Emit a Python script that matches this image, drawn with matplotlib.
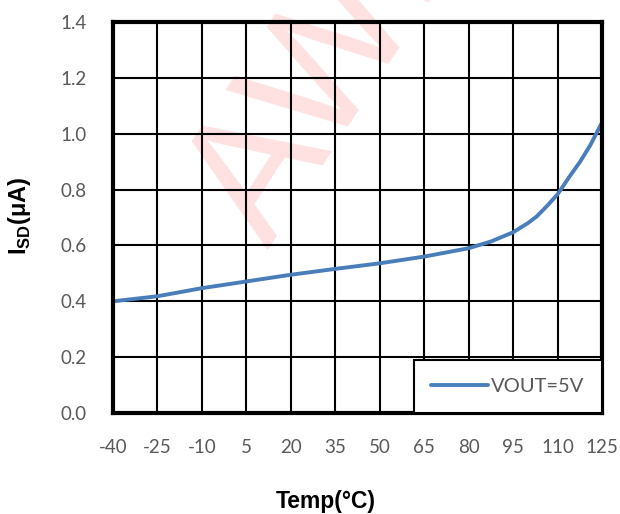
import matplotlib
matplotlib.use("Agg")
import matplotlib.pyplot as plt

plt.rcParams['mathtext.fontset'] = 'custom'
plt.rcParams['mathtext.rm'] = 'Liberation Sans:bold'
plt.rcParams['mathtext.bf'] = 'Liberation Sans:bold'
plt.rcParams['axes.unicode_minus'] = False

# shutdown current vs temperature
temp = [-40, -25, -10, 5, 20, 35, 50, 65, 80, 87.5, 95, 100, 103, 106.5,
        110, 114, 117.5, 121, 125]
isd = [0.40, 0.418, 0.447, 0.471, 0.495, 0.516, 0.536, 0.56, 0.59, 0.614,
       0.647, 0.68, 0.704, 0.742, 0.783, 0.846, 0.898, 0.958, 1.04]
xticks = list(range(-40, 126, 15))
yticks = [0.0, 0.2, 0.4, 0.6, 0.8, 1.0, 1.2, 1.4]

TICK_GRAY = '#595959'

fig = plt.figure(figsize=(6.2, 5.14), dpi=100)
ax = fig.add_axes([113/620, 1-413/514, 489/620, 391/514])
ax.set_facecolor('none')

# faint watermark behind the grid
fig.text(268/620, 1-250/514, 'AWINIC', fontsize=128, color='#ff0000', alpha=0.12,
         rotation=57, rotation_mode='anchor', ha='left', va='baseline',
         family='Liberation Sans', zorder=-1)

ax.plot(temp, isd, color='#4A7EBB', lw=2.8, solid_capstyle='round',
        solid_joinstyle='round', zorder=3, label='VOUT=5V')

ax.set_xlim(-40, 125)
ax.set_ylim(0, 1.4)
ax.set_xticks(xticks)
ax.set_yticks(yticks)
ax.set_yticklabels([f'{v:.1f}' for v in yticks])
ax.grid(True, color='black', lw=1.5, zorder=1)
ax.tick_params(length=0, labelsize=13.5, labelcolor=TICK_GRAY)
ax.tick_params(axis='y', pad=19)
ax.tick_params(axis='x', pad=19)
for lab in ax.get_xticklabels() + ax.get_yticklabels():
    lab.set_family('Lato')
for sp in ax.spines.values():
    sp.set_linewidth(3)
    sp.set_zorder(4)

ax.set_xlabel('Temp(°C)', fontsize=16.5, fontweight='bold', family='Liberation Sans')
ax.xaxis.set_label_coords((326-113)/489, (413-490)/391)
ax.set_ylabel(r'I$_{\mathrm{SD}}$(μA)', fontsize=17, fontweight='bold',
              family='Liberation Sans')
ax.yaxis.set_label_coords((33-113)/489, 0.505)

leg = ax.legend(loc='lower right', borderaxespad=0, frameon=True, fancybox=False,
                handlelength=2.8, borderpad=0.88, handletextpad=0.15,
                prop={'family': 'Lato', 'size': 14.5})
leg.get_frame().set_edgecolor('black')
leg.get_frame().set_linewidth(1.5)
leg.get_frame().set_facecolor('white')
leg.get_frame().set_alpha(1)
leg.set_zorder(5)
for t in leg.get_texts():
    t.set_color(TICK_GRAY)

fig.savefig('out.png', dpi=100)
